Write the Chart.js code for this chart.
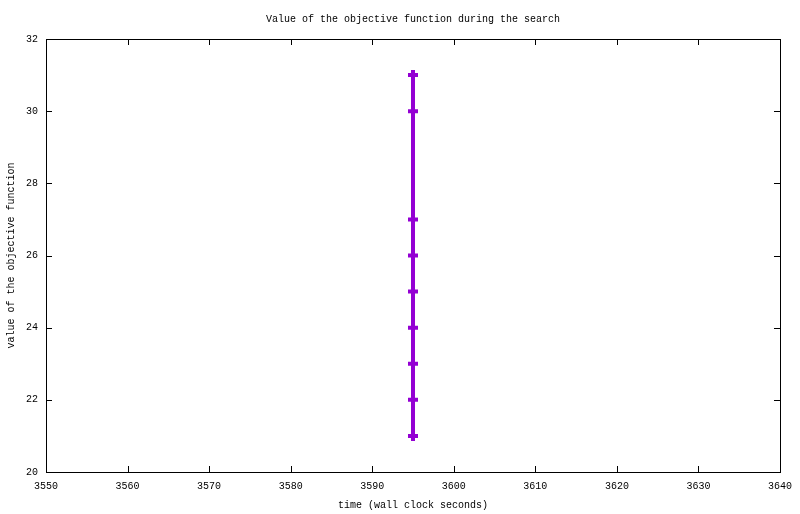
<!DOCTYPE html>
<html lang="en">

<head>
    <meta charset="UTF-8">
    <title>Value of the objective function during the search</title>
    <script src="https://cdn.jsdelivr.net/npm/chart.js"></script>
    <style>
        html, body { margin: 0; padding: 0; background: #fff; }
        #wrap { width: 800px; height: 514px; }
    </style>
</head>

<body>
    <div id="wrap"><canvas id="objChart"></canvas></div>

    <script>
        // values
        var times = [3595, 3595, 3595, 3595, 3595, 3595, 3595, 3595, 3595];
        var objective = [31, 30, 27, 26, 25, 24, 23, 22, 21];
        var xRange = [3550, 3640];
        var yRange = [20, 32];

        var points = times.map(function (t, i) { return { x: t, y: objective[i] }; });

        var FONT = "'Liberation Mono', 'DejaVu Sans Mono', monospace";

        // gnuplot-like frame with inward ticks on all four sides
        var framePlugin = {
            id: 'frame',
            afterDraw: function (chart) {
                var ctx = chart.ctx, a = chart.chartArea;
                var xs = chart.scales.x, ys = chart.scales.y;
                var len = 6;
                ctx.save();
                ctx.strokeStyle = '#000';
                ctx.lineWidth = 1;
                ctx.beginPath();
                xs.ticks.forEach(function (t) {
                    var px = Math.round(xs.getPixelForValue(t.value)) + 0.5;
                    ctx.moveTo(px, a.bottom); ctx.lineTo(px, a.bottom - len);
                    ctx.moveTo(px, a.top); ctx.lineTo(px, a.top + len);
                });
                ys.ticks.forEach(function (t) {
                    var py = Math.round(ys.getPixelForValue(t.value)) + 0.5;
                    ctx.moveTo(a.left, py); ctx.lineTo(a.left + len, py);
                    ctx.moveTo(a.right, py); ctx.lineTo(a.right - len, py);
                });
                ctx.stroke();
                ctx.strokeRect(Math.round(a.left) + 0.5, Math.round(a.top) + 0.5,
                    Math.round(a.right - a.left), Math.round(a.bottom - a.top));
                ctx.restore();
            }
        };

        new Chart(document.getElementById('objChart'), {
            type: 'scatter',
            data: {
                datasets: [{
                    data: points,
                    showLine: true,
                    borderColor: '#9400d3',
                    backgroundColor: '#9400d3',
                    borderWidth: 4,
                    pointStyle: 'cross',
                    pointRadius: 5,
                    pointBorderWidth: 4,
                    pointHoverRadius: 5
                }]
            },
            options: {
                responsive: true,
                maintainAspectRatio: false,
                animation: false,
                layout: { padding: { left: 0, right: 19, top: 0, bottom: 0 } },
                plugins: {
                    legend: { display: false },
                    tooltip: { enabled: false },
                    title: {
                        display: true,
                        fullSize: false,
                        text: 'Value of the objective function during the search',
                        color: '#000',
                        font: { family: FONT, size: 10, weight: 'normal', lineHeight: 1.2 },
                        padding: { top: 13, bottom: 14 }
                    }
                },
                scales: {
                    x: {
                        type: 'linear',
                        min: xRange[0],
                        max: xRange[1],
                        afterFit: function (s) { s.height = 42; },
                        grid: { display: false, drawTicks: false },
                        border: { display: false },
                        ticks: {
                            stepSize: 10,
                            padding: 8,
                            color: '#000',
                            maxRotation: 0,
                            font: { family: FONT, size: 10 },
                            callback: function (v) { return String(v); }
                        },
                        title: {
                            display: true,
                            text: 'time (wall clock seconds)',
                            color: '#000',
                            font: { family: FONT, size: 10, lineHeight: 1.2 },
                            padding: { top: 0, bottom: 3 }
                        }
                    },
                    y: {
                        min: yRange[0],
                        max: yRange[1],
                        afterFit: function (s) { s.width = 46; },
                        grid: { display: false, drawTicks: false },
                        border: { display: false },
                        ticks: {
                            stepSize: 2,
                            padding: 8,
                            color: '#000',
                            font: { family: FONT, size: 10 }
                        },
                        title: {
                            display: true,
                            text: 'value of the objective function',
                            color: '#000',
                            font: { family: FONT, size: 10, lineHeight: 1.2 },
                            padding: { top: 5, bottom: 0 }
                        }
                    }
                }
            },
            plugins: [framePlugin]
        });
    </script>

</body>

</html>
